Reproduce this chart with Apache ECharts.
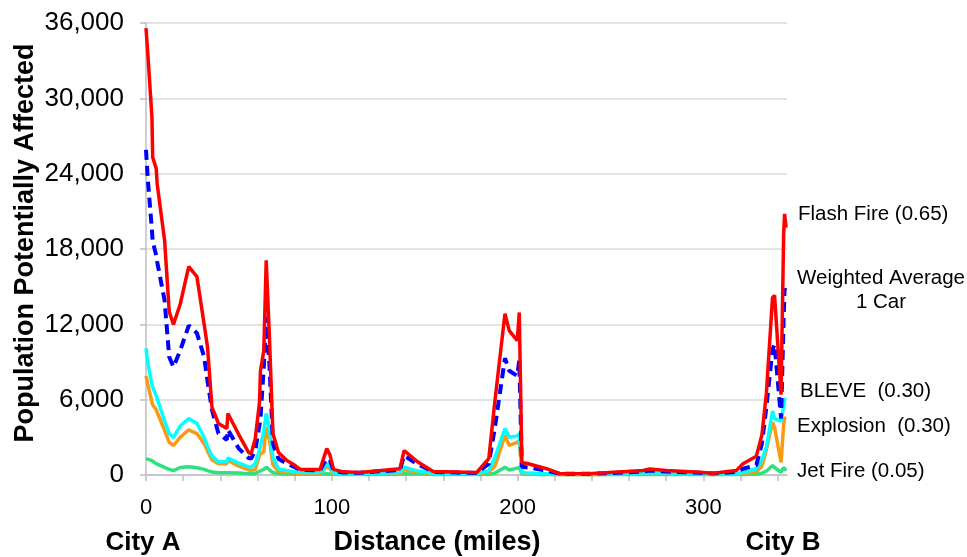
<!DOCTYPE html>
<html>
<head>
<meta charset="utf-8">
<script src="https://cdn.jsdelivr.net/npm/echarts@6/dist/echarts.min.js"></script>
<style>
  html, body { margin: 0; padding: 0; background: #fff; }
  #chart { width: 967px; height: 557px; }
</style>
</head>
<body>
<div id="chart"></div>
<script>
// distance along the route (miles)
var distance = [0, 1, 3.2, 3.6, 5.5, 6, 10, 12.5, 14.8, 18.4, 23, 27.4, 31.3, 33.1, 35.5, 39, 43.5, 44.1, 50,
  55.2, 56.6, 58.8, 61.1, 61.6, 63.4, 64.7, 66.5, 68.3, 71.3, 75.8, 80.3, 83, 93.7, 95.2, 97.3, 99, 100.9,
  106, 115, 136.7, 138.9, 145.7, 154.6, 178, 184.5, 187.8, 193.2, 195.5, 199.8, 200.9, 202.3, 205.7, 215.6,
  222.7, 240, 258.6, 267.5, 271.1, 280.1, 298, 305.2, 317.7, 321.3, 328.5, 331.5, 333.9, 337.2, 338.3, 341.8,
  343.2, 343.7, 344.5];

var flashFire = [35600, 33500, 28500, 25300, 24400, 23200, 18700, 13000, 12000, 13600, 16600, 15800, 12000, 10200, 5400, 4100, 3700, 4900, 3200,
  1800, 1700, 2900, 5800, 8300, 9900, 17100, 10700, 3300, 1800, 1150, 750, 440, 440, 1150, 2100, 1600, 450,
  250, 200, 500, 1950, 1100, 280, 200, 1300, 5900, 12850, 11500, 10700, 12950, 1000, 900, 500,
  100, 120, 280, 360, 480, 360, 220, 140, 350, 900, 1500, 3200, 6500, 14100, 14300, 6400,
  19200, 20800, 19700];

var weightedAvg = [25900, 23500, 19500, 18600, 17500, 17000, 13900, 9400, 8600, 9900, 11900, 11300, 9400, 7500, 5200, 3300, 2800, 3600, 2100,
  1350, 1300, 1950, 4000, 4500, 8600, 12600, 8600, 2500, 1300, 900, 600, 400, 380, 800, 1300, 1200, 350,
  200, 180, 400, 1550, 900, 250, 150, 900, 3800, 9300, 8300, 7900, 9100, 650, 600, 350,
  100, 100, 200, 280, 350, 280, 180, 120, 250, 500, 800, 2500, 5400, 10000, 10400, 4500,
  12500, 14800, 14700];

var bleve = [10100, 8900, 7200, 7000, 6300, 6100, 4300, 3300, 3000, 3900, 4500, 4100, 3000, 2300, 1500, 1050, 1050, 1350, 950,
  650, 620, 900, 2000, 2300, 3500, 4900, 3550, 1400, 500, 350, 250, 200, 200, 400, 900, 700, 150,
  100, 90, 200, 620, 350, 120, 100, 350, 1400, 3700, 3000, 3100, 3300, 200, 150, 100,
  50, 50, 100, 150, 180, 150, 90, 60, 120, 200, 500, 1200, 2200, 5100, 4500, 4300,
  5500, 6000, 6100];

var explosion = [7900, 7200, 5800, 5600, 5200, 5000, 3550, 2600, 2350, 3000, 3600, 3300, 2500, 1900, 1200, 900, 900, 1150, 700,
  400, 380, 420, 1600, 1700, 1850, 3800, 2750, 800, 300, 200, 150, 120, 120, 300, 700, 500, 100,
  80, 70, 150, 420, 250, 90, 80, 250, 700, 3150, 2350, 2600, 2750, 150, 100, 80,
  40, 40, 80, 100, 120, 100, 70, 50, 80, 120, 250, 700, 2000, 4200, 3800, 1000,
  4000, 4500, 4600];

var jetFire = [1300, 1250, 1150, 1100, 900, 880, 600, 450, 350, 600, 650, 580, 450, 350, 230, 180, 180, 230, 150,
  100, 100, 120, 300, 350, 450, 620, 400, 200, 100, 80, 60, 50, 50, 60, 100, 80, 40,
  30, 30, 50, 100, 70, 30, 30, 60, 150, 620, 400, 550, 620, 80, 50, 30,
  20, 20, 30, 40, 40, 40, 30, 20, 30, 40, 60, 150, 300, 750, 600, 220,
  600, 700, 350];

var yTicks = [0, 6000, 12000, 18000, 24000, 30000, 36000];

function pairs(vals) {
  return distance.map(function (d, i) { return [d, vals[i]]; });
}

var chart = echarts.init(document.getElementById('chart'));
var font = 'Liberation Sans, Arial, sans-serif';

var option = {
  backgroundColor: '#fff',
  animation: false,
  grid: { left: 146, right: 180, top: 23, bottom: 82, containLabel: false },
  xAxis: {
    type: 'value',
    min: 0,
    max: 345,
    interval: 20,
    axisLine: { show: true, lineStyle: { color: '#BFBFBF', width: 1.5 } },
    axisTick: { show: true, length: 6, lineStyle: { color: '#BFBFBF', width: 1.5 } },
    splitLine: { show: false },
    axisLabel: {
      margin: 22,
      fontFamily: font,
      fontSize: 22,
      color: '#000',
      showMaxLabel: false,
      formatter: function (v) { return v % 100 === 0 ? String(v) : ''; }
    }
  },
  yAxis: {
    type: 'value',
    min: yTicks[0],
    max: yTicks[yTicks.length - 1],
    interval: 6000,
    axisLine: { show: true, lineStyle: { color: '#BFBFBF', width: 1.5 } },
    axisTick: { show: true, inside: false, length: 6, lineStyle: { color: '#BFBFBF', width: 1.5 } },
    splitLine: { show: true, lineStyle: { color: '#DADADA', width: 1.5 } },
    axisLabel: {
      margin: 22,
      fontFamily: font,
      fontSize: 26,
      color: '#000',
      formatter: function (v) { return v.toLocaleString('en-US'); }
    }
  },
  series: [
    { name: 'Jet Fire (0.05)', type: 'line', data: pairs(jetFire), showSymbol: false,
      lineStyle: { color: '#2FE07F', width: 3.5 } },
    { name: 'Explosion (0.30)', type: 'line', data: pairs(explosion), showSymbol: false,
      lineStyle: { color: '#FA9A14', width: 3.5 } },
    { name: 'BLEVE (0.30)', type: 'line', data: pairs(bleve), showSymbol: false,
      lineStyle: { color: '#00FFFF', width: 3.5 } },
    { name: 'Weighted Average 1 Car', type: 'line', data: pairs(weightedAvg), showSymbol: false,
      lineStyle: { color: '#0000FF', width: 4, type: [10, 6] } },
    { name: 'Flash Fire (0.65)', type: 'line', data: pairs(flashFire), showSymbol: false,
      lineStyle: { color: '#FF0000', width: 3.5 } }
  ],
  graphic: [
    { type: 'text', x: 26, y: 243, rotation: Math.PI / 2,
      style: { text: 'Population Potentially Affected', font: 'bold 27px ' + font, fill: '#000',
        align: 'center', verticalAlign: 'middle' } },
    { type: 'text', style: { text: 'City A', x: 143, y: 543, font: 'bold 26px ' + font, fill: '#000', align: 'center', verticalAlign: 'middle' } },
    { type: 'text', style: { text: 'Distance (miles)', x: 437, y: 543, font: 'bold 27px ' + font, fill: '#000', align: 'center', verticalAlign: 'middle' } },
    { type: 'text', style: { text: 'City B', x: 783, y: 543, font: 'bold 26px ' + font, fill: '#000', align: 'center', verticalAlign: 'middle' } },
    { type: 'text', style: { text: 'Flash Fire (0.65)', x: 798, y: 214, font: '20.5px ' + font, fill: '#000', verticalAlign: 'middle' } },
    { type: 'text', style: { text: 'Weighted Average\n1 Car', x: 881, y: 290, font: '20.5px ' + font, fill: '#000', align: 'center', verticalAlign: 'middle', lineHeight: 24 } },
    { type: 'text', style: { text: 'BLEVE  (0.30)', x: 800, y: 391, font: '20.5px ' + font, fill: '#000', verticalAlign: 'middle' } },
    { type: 'text', style: { text: 'Explosion  (0.30)', x: 797, y: 426, font: '20.5px ' + font, fill: '#000', verticalAlign: 'middle' } },
    { type: 'text', style: { text: 'Jet Fire (0.05)', x: 797, y: 471, font: '20.5px ' + font, fill: '#000', verticalAlign: 'middle' } }
  ]
};

chart.setOption(option);
</script>
</body>
</html>
